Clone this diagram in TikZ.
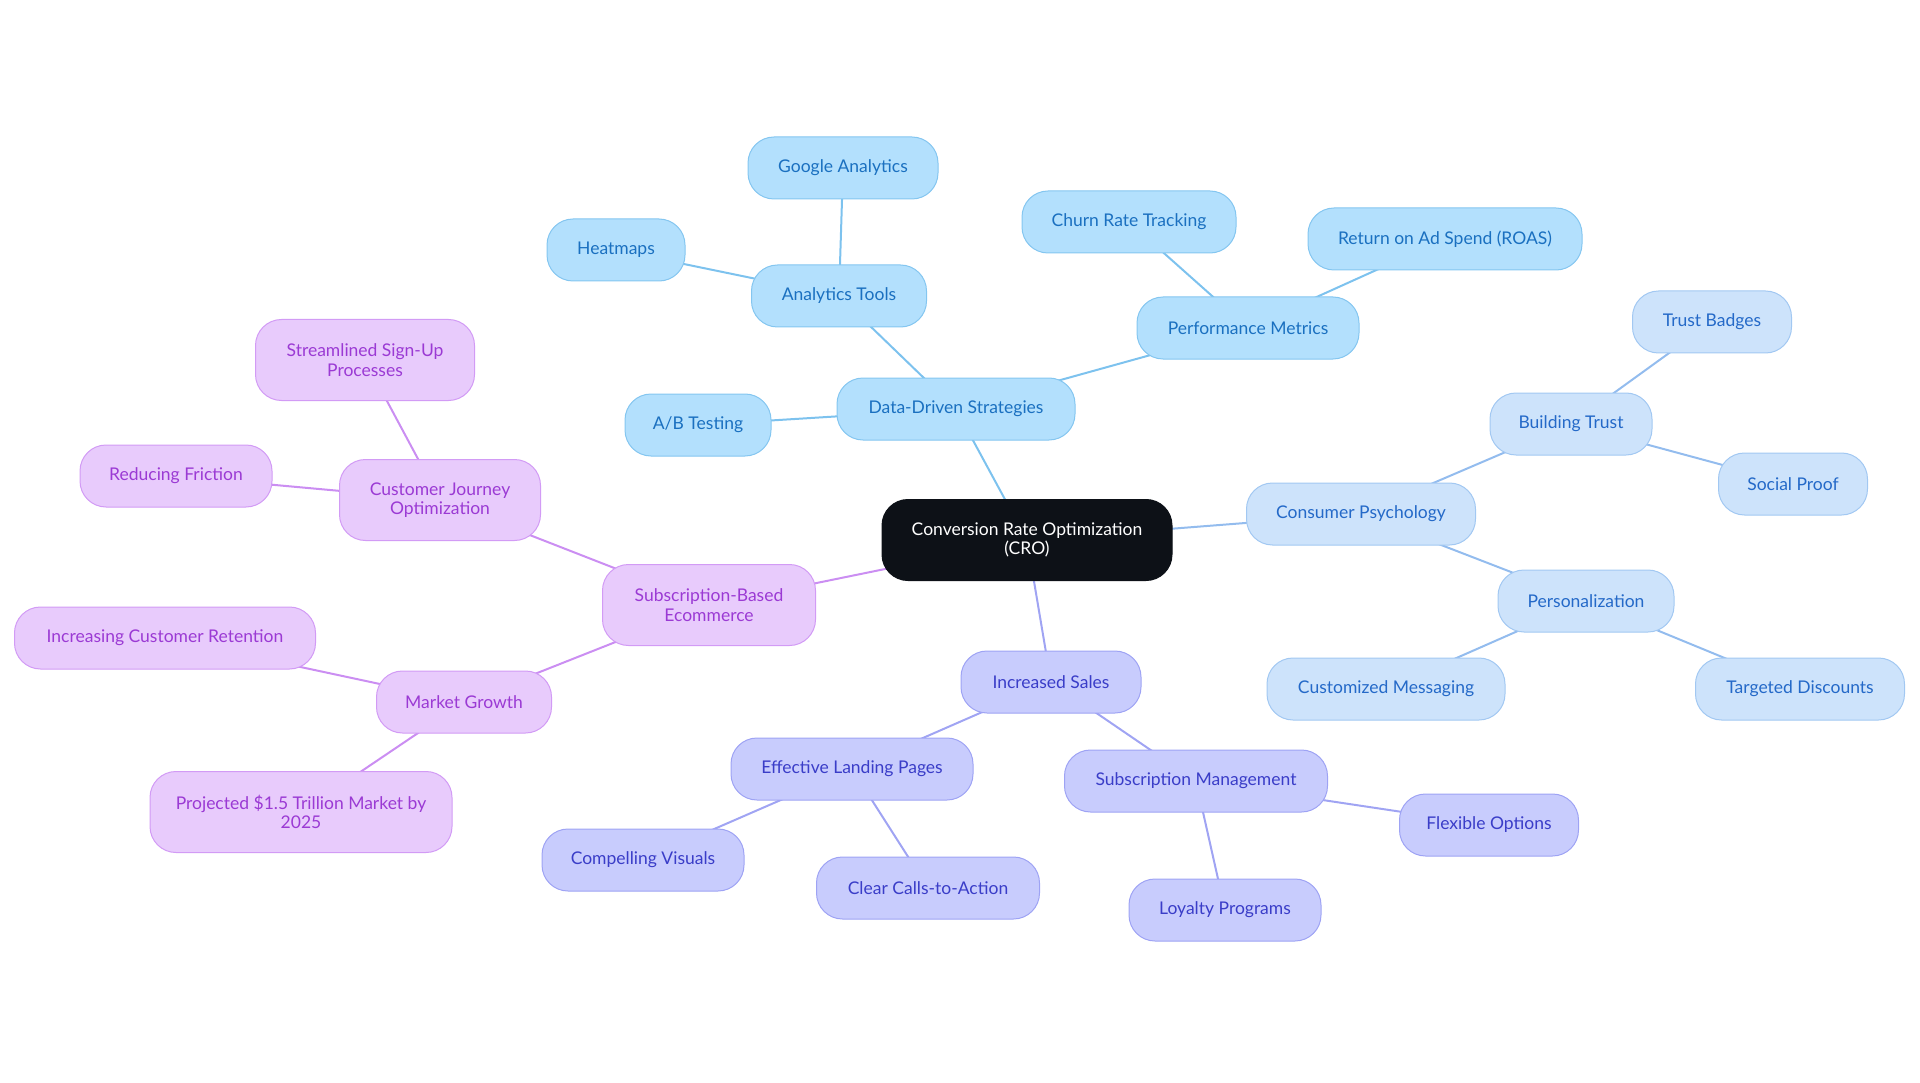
\documentclass[tikz,border=0pt]{standalone}
\usepackage{fontspec}
\setmainfont{Lato}
\usetikzlibrary{backgrounds}
\definecolor{cro}{HTML}{0D1117}
\definecolor{bfill}{HTML}{B3E0FD}\definecolor{bdraw}{HTML}{84C6F0}\definecolor{btext}{HTML}{1A70C0}\definecolor{bline}{HTML}{7DC2EE}
\definecolor{pfill}{HTML}{E8CBFC}\definecolor{pdraw}{HTML}{D29BF5}\definecolor{ptext}{HTML}{9B3AD4}\definecolor{pline}{HTML}{CB8EF2}
\definecolor{ifill}{HTML}{C8CCFD}\definecolor{idraw}{HTML}{9EA3F4}\definecolor{itext}{HTML}{3A3DC8}\definecolor{iline}{HTML}{A0A4F3}
\definecolor{lfill}{HTML}{CDE3FB}\definecolor{ldraw}{HTML}{A2C8F2}\definecolor{ltext}{HTML}{2469C8}\definecolor{lline}{HTML}{93BCEE}
\tikzset{
  base/.style={rounded corners=26pt, line width=1pt, align=center, font=\fontsize{17.5}{19.5}\selectfont, inner sep=0pt, minimum height=62pt},
  bnode/.style={base, fill=bfill, draw=bdraw, text=btext},
  pnode/.style={base, fill=pfill, draw=pdraw, text=ptext},
  inode/.style={base, fill=ifill, draw=idraw, text=itext},
  lnode/.style={base, fill=lfill, draw=ldraw, text=ltext},
  bedge/.style={draw=bline, line width=2pt},
  pedge/.style={draw=pline, line width=2pt},
  iedge/.style={draw=iline, line width=2pt},
  ledge/.style={draw=lline, line width=2pt},
}
\begin{document}
\begin{tikzpicture}[x=1pt,y=-1pt]
\useasboundingbox (0,0) rectangle (1920,1083);
\node[base, fill=cro, draw=cro, text=white, minimum width=290pt, minimum height=81pt] (cro) at (1027,540) {Conversion Rate Optimization\\(CRO)};
% blue
\node[bnode, minimum width=238pt] (dds) at (956,409) {Data-Driven Strategies};
\node[bnode, minimum width=146pt] (ab) at (698,425) {A/B Testing};
\node[bnode, minimum width=175pt] (at) at (839,296) {Analytics Tools};
\node[bnode, minimum width=138pt] (hm) at (616,250) {Heatmaps};
\node[bnode, minimum width=190pt] (ga) at (843,168) {Google Analytics};
\node[bnode, minimum width=222pt] (pm) at (1248,328) {Performance Metrics};
\node[bnode, minimum width=214pt] (crt) at (1129,222) {Churn Rate Tracking};
\node[bnode, minimum width=274pt] (roas) at (1445,239) {Return on Ad Spend (ROAS)};
% light blue
\node[lnode, minimum width=229pt] (cp) at (1361,514) {Consumer Psychology};
\node[lnode, minimum width=162pt] (bt) at (1571,424) {Building Trust};
\node[lnode, minimum width=159pt] (tb) at (1712,322) {Trust Badges};
\node[lnode, minimum width=149pt] (sp) at (1793,484) {Social Proof};
\node[lnode, minimum width=176pt] (pers) at (1586,601) {Personalization};
\node[lnode, minimum width=238pt] (cm) at (1386,689) {Customized Messaging};
\node[lnode, minimum width=209pt] (td) at (1800,689) {Targeted Discounts};
% indigo
\node[inode, minimum width=180pt] (is) at (1051,682) {Increased Sales};
\node[inode, minimum width=242pt] (elp) at (852,769) {Effective Landing Pages};
\node[inode, minimum width=202pt] (cv) at (643,860) {Compelling Visuals};
\node[inode, minimum width=223pt] (cca) at (928,888) {Clear Calls-to-Action};
\node[inode, minimum width=263pt] (sm) at (1196,781) {Subscription Management};
\node[inode, minimum width=179pt] (fo) at (1489,825) {Flexible Options};
\node[inode, minimum width=192pt] (lp) at (1225,910) {Loyalty Programs};
% purple
\node[pnode, minimum width=213pt, minimum height=81pt] (sbe) at (709,605) {Subscription-Based\\Ecommerce};
\node[pnode, minimum width=201pt, minimum height=81pt] (cjo) at (440,500) {Customer Journey\\Optimization};
\node[pnode, minimum width=219pt, minimum height=81pt] (ssp) at (365,360) {Streamlined Sign-Up\\Processes};
\node[pnode, minimum width=192pt] (rf) at (176,476) {Reducing Friction};
\node[pnode, minimum width=175pt] (mg) at (464,702) {Market Growth};
\node[pnode, minimum width=301pt] (icr) at (165,638) {Increasing Customer Retention};
\node[pnode, minimum width=302pt, minimum height=81pt] (proj) at (301,812) {Projected \$1.5 Trillion Market by\\2025};
\begin{scope}[on background layer]
\draw[bedge] (cro.center) -- (dds.center);
\draw[bedge] (dds.center) -- (ab.center);
\draw[bedge] (dds.center) -- (at.center);
\draw[bedge] (at.center) -- (hm.center);
\draw[bedge] (at.center) -- (ga.center);
\draw[bedge] (dds.center) -- (pm.center);
\draw[bedge] (pm.center) -- (crt.center);
\draw[bedge] (pm.center) -- (roas.center);
\draw[ledge] (cro.center) -- (cp.center);
\draw[ledge] (cp.center) -- (bt.center);
\draw[ledge] (bt.center) -- (tb.center);
\draw[ledge] (bt.center) -- (sp.center);
\draw[ledge] (cp.center) -- (pers.center);
\draw[ledge] (pers.center) -- (cm.center);
\draw[ledge] (pers.center) -- (td.center);
\draw[iedge] (cro.center) -- (is.center);
\draw[iedge] (is.center) -- (elp.center);
\draw[iedge] (elp.center) -- (cv.center);
\draw[iedge] (elp.center) -- (cca.center);
\draw[iedge] (is.center) -- (sm.center);
\draw[iedge] (sm.center) -- (fo.center);
\draw[iedge] (sm.center) -- (lp.center);
\draw[pedge] (cro.center) -- (sbe.center);
\draw[pedge] (sbe.center) -- (cjo.center);
\draw[pedge] (cjo.center) -- (ssp.center);
\draw[pedge] (cjo.center) -- (rf.center);
\draw[pedge] (sbe.center) -- (mg.center);
\draw[pedge] (mg.center) -- (icr.center);
\draw[pedge] (mg.center) -- (proj.center);
\end{scope}
\end{tikzpicture}
\end{document}
